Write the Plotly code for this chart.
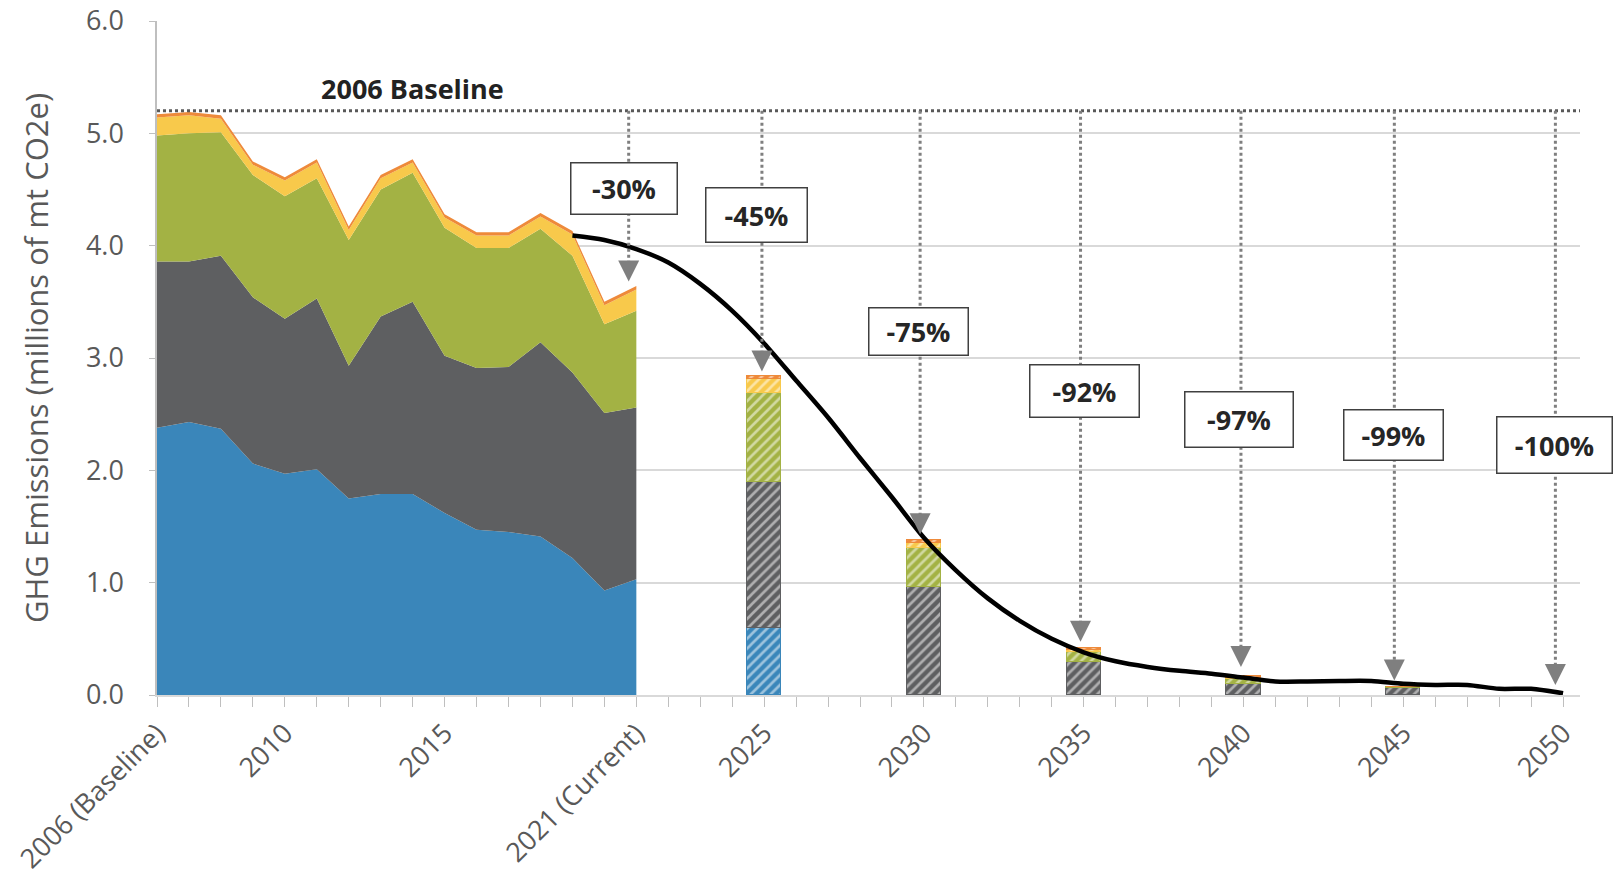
import plotly.graph_objects as go

# ---------------- data ----------------
hist_years = [2006, 2007, 2008, 2009, 2010, 2011, 2012, 2013, 2014, 2015, 2016, 2017, 2018, 2019, 2020, 2021]
hist_blue = [2.38, 2.43, 2.37, 2.06, 1.97, 2.01, 1.75, 1.79, 1.79, 1.62, 1.47, 1.45, 1.41, 1.22, 0.93, 1.03]
hist_gray = [1.48, 1.43, 1.54, 1.48, 1.38, 1.52, 1.18, 1.58, 1.71, 1.40, 1.44, 1.47, 1.73, 1.65, 1.58, 1.53]
hist_green = [1.12, 1.14, 1.10, 1.09, 1.09, 1.07, 1.12, 1.13, 1.15, 1.14, 1.07, 1.06, 1.01, 1.04, 0.79, 0.86]
hist_yellow = [0.16, 0.16, 0.12, 0.09, 0.14, 0.14, 0.09, 0.10, 0.09, 0.09, 0.11, 0.11, 0.11, 0.19, 0.17, 0.19]
hist_orange = [0.03, 0.03, 0.03, 0.03, 0.03, 0.03, 0.03, 0.03, 0.03, 0.03, 0.03, 0.03, 0.03, 0.03, 0.03, 0.03]

target_years = [2025, 2030, 2035, 2040, 2045]
tgt_blue = [0.60, 0.0, 0.0, 0.0, 0.0]
tgt_gray = [1.30, 0.96, 0.29, 0.10, 0.06]
tgt_green = [0.79, 0.35, 0.09, 0.04, 0.01]
tgt_yellow = [0.12, 0.04, 0.02, 0.01, 0.0]
tgt_orange = [0.03, 0.03, 0.02, 0.015, 0.0]

path_years = [2019, 2020, 2021, 2022, 2023, 2024, 2025, 2026, 2027, 2028, 2029, 2030, 2031, 2032,
              2033, 2034, 2035, 2036, 2037, 2038, 2039, 2040, 2041, 2042, 2043, 2044, 2045, 2046,
              2047, 2048, 2049, 2050]
path_values = [4.09, 4.05, 3.97, 3.85, 3.66, 3.42, 3.13, 2.80, 2.47, 2.11, 1.76, 1.40, 1.11, 0.86,
               0.66, 0.50, 0.38, 0.30, 0.25, 0.215, 0.19, 0.155, 0.12, 0.12, 0.125, 0.125, 0.10, 0.09,
               0.09, 0.055, 0.055, 0.015]

baseline_value = 5.2
baseline_label = "2006 Baseline"

arrow_labels = ["-30%", "-45%", "-75%", "-92%", "-97%", "-99%", "-100%"]
arrow_x = [2020.76, 2024.93, 2029.88, 2034.9, 2039.92, 2044.72, 2049.76]
arrow_tip = [3.68, 2.88, 1.43, 0.475, 0.25, 0.13, 0.09]
label_x = [2020.6, 2024.77, 2029.84, 2035.03, 2039.87, 2044.7, 2049.74]
label_y = [4.505, 4.27, 3.24, 2.705, 2.457, 2.315, 2.228]
label_w = [105, 100, 98, 108, 107, 98, 114]
label_h = [50, 53, 46, 51, 54, 49, 55]

tick_vals = [2006, 2010, 2015, 2021, 2025, 2030, 2035, 2040, 2045, 2050]
tick_text = ["2006 (Baseline)", "2010", "2015", "2021 (Current)", "2025", "2030", "2035", "2040", "2045", "2050"]
minor_ticks = list(range(2006, 2051))
y_ticks = [0, 1, 2, 3, 4, 5, 6]

colors = ["#3A86BA", "#5E5F61", "#A3B244", "#F8C94B", "#EE8A3A"]
layer_names = ["Layer 1", "Layer 2", "Layer 3", "Layer 4", "Layer 5"]

# ---------------- layout constants ----------------
W, H = 1614, 878
M_L, M_R, M_T, M_B = 157, 34, 21, 183
Y_MAX = 6.0
px_per_unit = (H - M_T - M_B) / Y_MAX
FONT = "Open Sans"
TXT = "#595959"

fig = go.Figure()

hist_layers = [hist_blue, hist_gray, hist_green, hist_yellow, hist_orange]
for name, vals, col in zip(layer_names, hist_layers, colors):
    fig.add_trace(go.Scatter(
        x=hist_years, y=vals, name=name, mode="lines", stackgroup="hist",
        line=dict(width=0, color=col), fillcolor=col, showlegend=False, hoverinfo="skip"))

tgt_layers = [tgt_blue, tgt_gray, tgt_green, tgt_yellow, tgt_orange]
for name, vals, col in zip(layer_names, tgt_layers, colors):
    fig.add_trace(go.Bar(
        x=target_years, y=vals, name=name + " target", width=1.07,
        marker=dict(color=col, line=dict(color=col, width=1),
                    pattern=dict(shape="/", fgcolor="white", size=7, solidity=0.38, fillmode="overlay")),
        showlegend=False, hoverinfo="skip"))

fig.add_trace(go.Scatter(
    x=path_years, y=path_values, mode="lines", line=dict(color="black", width=4.5, shape="spline", smoothing=0.8),
    showlegend=False, hoverinfo="skip"))

# arrow heads
fig.add_trace(go.Scatter(
    x=arrow_x, y=arrow_tip, mode="markers",
    marker=dict(symbol="arrow-down", size=21, color="#7F7F7F", line=dict(width=0)),
    showlegend=False, hoverinfo="skip", cliponaxis=False))

shapes = []
shapes.append(dict(type="line", xref="paper", yref="y", x0=0, x1=1, y0=baseline_value, y1=baseline_value,
                   line=dict(color="#595959", width=3, dash="dot"), layer="above"))
for ax_, tip in zip(arrow_x, arrow_tip):
    shapes.append(dict(type="line", xref="x", yref="y", x0=ax_, x1=ax_, y0=baseline_value,
                       y1=tip + 20 / px_per_unit,
                       line=dict(color="#7F7F7F", width=3, dash="dot"), layer="above"))

annotations = [dict(x=2014.0, y=5.40, xref="x", yref="y", text="<b>" + baseline_label + "</b>",
                    showarrow=False, font=dict(family=FONT, size=27, color="#222222"))]
for lab, lx, ly, lw, lh in zip(arrow_labels, label_x, label_y, label_w, label_h):
    annotations.append(dict(x=lx, y=ly, xref="x", yref="y", text="<b>" + lab + "</b>", showarrow=False,
                            width=lw, height=lh, bgcolor="white", bordercolor="#404040", borderwidth=1.5,
                            borderpad=0, xanchor="center", yanchor="middle", align="center", valign="middle",
                            font=dict(family=FONT, size=27, color="#262626")))

fig.update_layout(
    width=W, height=H, autosize=False,
    margin=dict(l=M_L, r=M_R, t=M_T, b=M_B, autoexpand=False),
    paper_bgcolor="white", plot_bgcolor="white",
    barmode="stack", bargap=0,
    shapes=shapes, annotations=annotations,
    font=dict(family=FONT, color=TXT),
    xaxis=dict(range=[2006, 2050.53], tickmode="array", tickvals=tick_vals, ticktext=tick_text,
               tickangle=-45, tickfont=dict(family=FONT, size=27, color=TXT), automargin=False,
               ticklabeloverflow="allow",
               showgrid=False, zeroline=False, showline=True, linecolor="#D9D9D9", linewidth=1.5,
               ticks="outside", ticklen=10, tickcolor="#BFBFBF",
               minor=dict(tickmode="array", tickvals=minor_ticks, ticks="outside", ticklen=10,
                          tickcolor="#BFBFBF", showgrid=False)),
    yaxis=dict(range=[0, Y_MAX], tickmode="array", tickvals=y_ticks, tickformat=".1f",
               tickfont=dict(family=FONT, size=27, color=TXT),
               automargin=False, ticklabeloverflow="allow",
               showgrid=True, gridcolor="#D9D9D9", gridwidth=1.5, zeroline=False,
               showline=True, linecolor="#BFBFBF", linewidth=1.5,
               ticks="outside", ticklen=6, tickcolor="#BFBFBF", ticklabelstandoff=20,
               title=dict(text="GHG Emissions (millions of mt CO2e)", standoff=28,
                          font=dict(family=FONT, size=31, color=TXT))),
)

fig.write_html("out.html", config={"displayModeBar": False},
               post_script="document.body.style.margin='0px';")
